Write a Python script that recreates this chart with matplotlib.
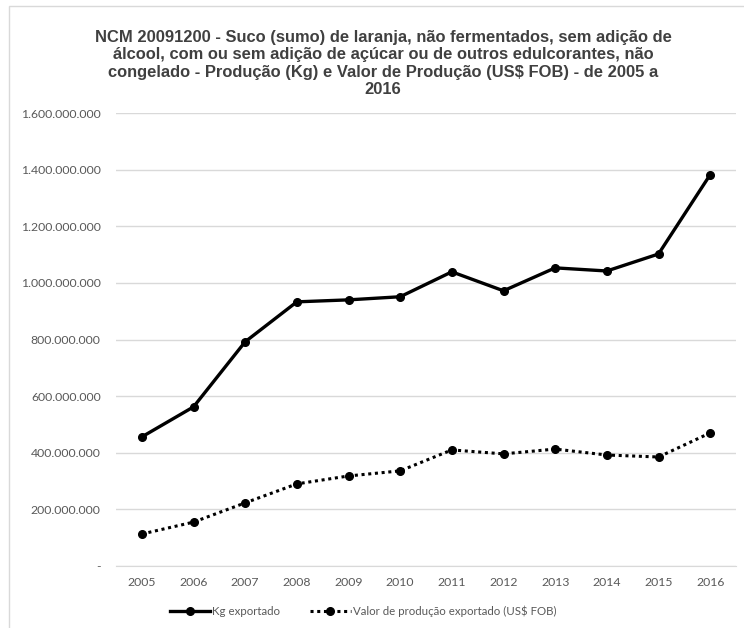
import numpy as np
import matplotlib
matplotlib.use("Agg")
import matplotlib.pyplot as plt
from matplotlib.ticker import FuncFormatter
from matplotlib.patches import Rectangle

years = [2005, 2006, 2007, 2008, 2009, 2010, 2011, 2012, 2013, 2014, 2015, 2016]
kg_exportado = [456e6, 562e6, 792e6, 933e6, 940e6, 951e6, 1039e6, 972e6, 1053e6, 1042e6, 1102e6, 1382e6]
valor_fob = [113e6, 155e6, 223e6, 290e6, 318e6, 336e6, 410e6, 396e6, 413e6, 392e6, 385e6, 470e6]

title = ("NCM 20091200 - Suco (sumo) de laranja, não fermentados, sem adição de\n"
         "álcool, com ou sem adição de açúcar ou de outros edulcorantes, não\n"
         "congelado - Produção (Kg) e Valor de Produção (US$ FOB) - de 2005 a\n"
         "2016")


def fmt(v, pos):
    if v == 0:
        return "-"
    return f"{int(v):,}".replace(",", ".")


fig = plt.figure(figsize=(7.44, 6.28), dpi=100)
fig.patches.append(Rectangle((9 / 744, -0.1), 1.2, 1 - 6 / 628 + 0.1,
                             transform=fig.transFigure, fill=False,
                             edgecolor="#d9d9d9", linewidth=1))
ax = fig.add_axes([116 / 744, 62 / 628, 620 / 744, 453 / 628])

xi = np.arange(len(years))
dots = (0, (1, 1.2))
ax.plot(xi, kg_exportado, "-o", color="black", linewidth=2.4, markersize=5.5, zorder=3)
ax.plot(xi, valor_fob, "o", linestyle=dots, color="black", linewidth=2.2,
        markersize=5.5, zorder=3)

ax.set_xlim(-0.5, len(years) - 0.5)
ax.set_ylim(0, 1.6e9)
ax.set_yticks(np.arange(0, 1.6e9 + 1, 2e8))
ax.yaxis.set_major_formatter(FuncFormatter(fmt))
ax.set_xticks(xi)
ax.set_xticklabels([str(y) for y in years])
ax.grid(axis="y", color="#d9d9d9", linewidth=1)
ax.set_axisbelow(True)
for s in ["top", "right", "left"]:
    ax.spines[s].set_visible(False)
ax.spines["bottom"].set_color("#d9d9d9")
ax.tick_params(length=0, labelsize=8.8, labelcolor="#595959")
ax.tick_params(axis="y", pad=11)
ax.tick_params(axis="x", pad=8)
for lab in ax.get_xticklabels() + ax.get_yticklabels():
    lab.set_family("Lato")

fig.text(383 / 744, 1 - 30 / 628, title, ha="center", va="top",
         fontsize=11.9, fontweight="bold", family="Liberation Sans",
         color="#404040", linespacing=1.2)

h1, = ax.plot([], [], "-o", color="black", linewidth=2.4, markersize=5.5)
h2, = ax.plot([], [], "o", color="black", linewidth=2.2, markersize=5.5,
              linestyle=dots)
fig.legend([h1, h2], ["Kg exportado", "Valor de produção exportado (US$ FOB)"],
           loc="center", bbox_to_anchor=(363 / 744, 1 - 611 / 628), ncol=2,
           frameon=False, handlelength=3.5, handletextpad=0.2, columnspacing=2.6,
           prop={"family": "Lato", "size": 8.3}, labelcolor="#595959")

fig.savefig("out.png", dpi=100)
